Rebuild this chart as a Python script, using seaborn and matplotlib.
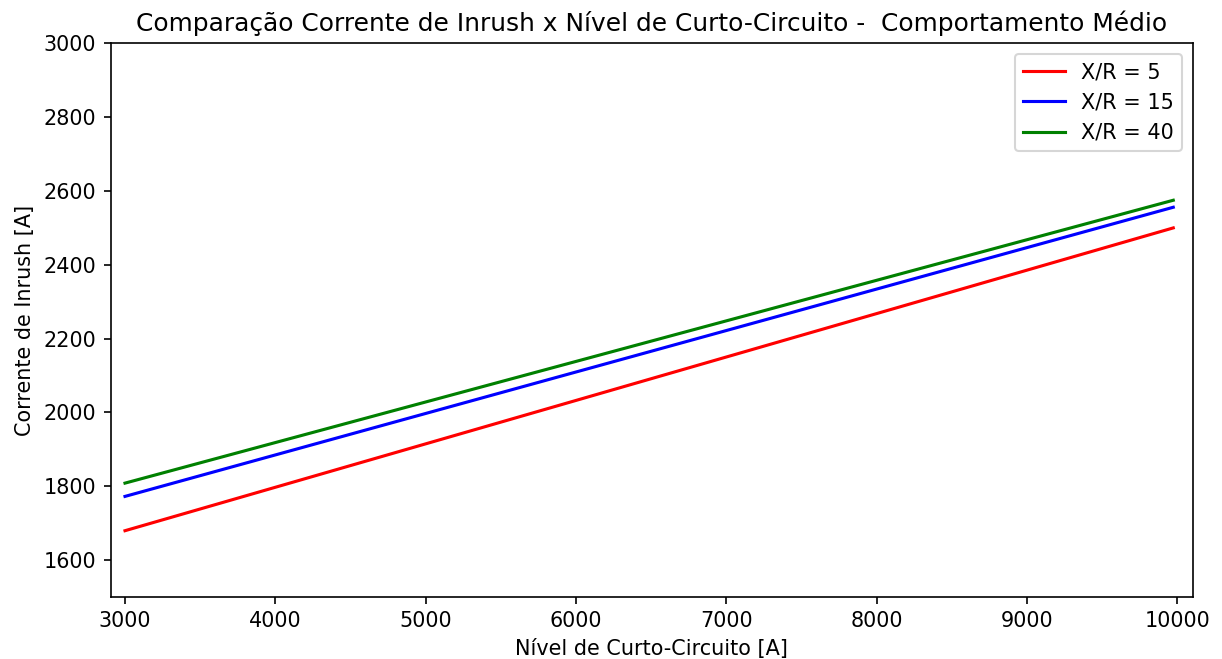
import matplotlib
matplotlib.use("Agg")
import matplotlib.pyplot as plt
import seaborn as sns
import pandas as pd

# Data
nivel_cc = [3000, 9973]
inrush_xr5 = [1679, 2500]
inrush_xr15 = [1772, 2556]
inrush_xr40 = [1808, 2575]
series_labels = ["X/R = 5", "X/R = 15", "X/R = 40"]
series_colors = ["red", "blue", "green"]

rows = []
for lab, vals in zip(series_labels, [inrush_xr5, inrush_xr15, inrush_xr40]):
    for x, y in zip(nivel_cc, vals):
        rows.append({"x": x, "y": y, "serie": lab})
df = pd.DataFrame(rows)

plt.rcParams['font.family'] = ['DejaVu Sans']
DPI = 149
fig = plt.figure(figsize=(1222 / DPI, 659 / DPI), dpi=DPI)
ax = fig.add_axes([0.0906, 0.0945, 0.976 - 0.0906, 0.934 - 0.0945])

sns.lineplot(data=df, x="x", y="y", hue="serie", hue_order=series_labels,
             palette=series_colors, linewidth=1.5, ax=ax)

ax.set_xlim(2905, 10102)
ax.set_ylim(1500, 3000)
ax.set_title("Comparação Corrente de Inrush x Nível de Curto-Circuito -  Comportamento Médio",
             fontsize=12)
ax.set_xlabel("Nível de Curto-Circuito [A]", fontsize=10)
ax.set_ylabel("Corrente de Inrush [A]", fontsize=10)
ax.tick_params(labelsize=10)
leg = ax.legend(loc="upper right", fontsize=10, title=None)
for line in leg.get_lines():
    line.set_linewidth(1.5)

fig.savefig("out.png", dpi=DPI)
